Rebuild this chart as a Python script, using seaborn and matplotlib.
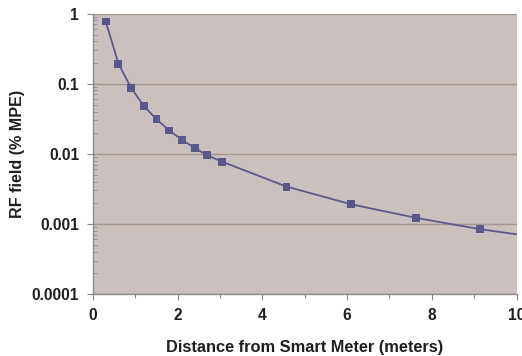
import matplotlib
matplotlib.use("Agg")
import matplotlib.pyplot as plt
import matplotlib.ticker as mticker
import seaborn as sns
import pandas as pd

# Data
distance_m = [0.3, 0.6, 0.9, 1.2, 1.5, 1.8, 2.1, 2.4, 2.7, 3.05, 4.57, 6.1, 7.62, 9.14]
rf_field = [0.77, 0.193, 0.087, 0.048, 0.031, 0.0215, 0.0158, 0.0121, 0.0095, 0.0077,
            0.0034, 0.0019, 0.00122, 0.00084]
# curve continues to the right edge of the plot
curve_end_x = [10.0]
curve_end_y = [0.00071]
x_ticks = [0, 2, 4, 6, 8, 10]
y_ticks = [0.0001, 0.001, 0.01, 0.1, 1]
y_tick_labels = ["0.0001", "0.001", "0.01", "0.1", "1"]

sns.set_theme(style="white")
plt.rcParams['font.family'] = ['Liberation Sans', 'DejaVu Sans']

df_pts = pd.DataFrame({"x": distance_m, "y": rf_field})
df_line = pd.DataFrame({"x": distance_m + curve_end_x, "y": rf_field + curve_end_y})

fig = plt.figure(figsize=(5.22, 3.56), dpi=100)
ax = fig.add_axes([93 / 522, 1 - 294 / 356, (516.5 - 93) / 522, (294 - 13.5) / 356])
ax.set_facecolor("#cac0bd")

line_color = "#5a5989"
sns.lineplot(data=df_line, x="x", y="y", ax=ax, color=line_color, linewidth=1.3,
             sort=True, estimator=None)
sns.scatterplot(data=df_pts, x="x", y="y", ax=ax, color="#58588c", marker="s",
                s=32, edgecolor="none", zorder=5)

ax.set_yscale("log")
ax.set_xlim(0, 10)
ax.set_ylim(1e-4, 1)
ax.set_xticks(x_ticks)
ax.set_xticklabels([str(t) for t in x_ticks])
ax.xaxis.set_minor_locator(mticker.MultipleLocator(1))
ax.set_yticks(y_ticks)
ax.set_yticklabels(y_tick_labels)
ax.yaxis.set_minor_locator(mticker.LogLocator(base=10, subs=range(2, 10)))
ax.yaxis.set_minor_formatter(mticker.NullFormatter())

ax.grid(axis="y", which="major", color="#a3958f", linewidth=1.0)
ax.set_axisbelow(True)

for s in ["top", "right"]:
    ax.spines[s].set_visible(False)
for s in ["left", "bottom"]:
    ax.spines[s].set_color("#8a8a8a")
    ax.spines[s].set_linewidth(1.0)

ax.tick_params(axis="both", which="major", direction="out", length=4, width=0.8,
               color="#8a8a8a", labelsize=11.2, labelcolor="#1e1e1e", pad=6, left=True, bottom=True)
ax.tick_params(axis="y", which="minor", direction="in", length=3, width=0.6,
               color="#8a8a8a", left=True)
ax.tick_params(axis="x", which="minor", direction="out", length=3, width=0.8,
               color="#8a8a8a", bottom=True)
for lbl in ax.get_xticklabels() + ax.get_yticklabels():
    lbl.set_fontweight("bold")

ax.set_xlabel("Distance from Smart Meter (meters)", fontsize=11.8, fontweight="bold",
              color="#1e1e1e", labelpad=12)
ax.set_ylabel("RF field (% MPE)", fontsize=11.6, fontweight="bold", color="#1e1e1e",
              labelpad=5)

fig.savefig("out.png", dpi=100)
